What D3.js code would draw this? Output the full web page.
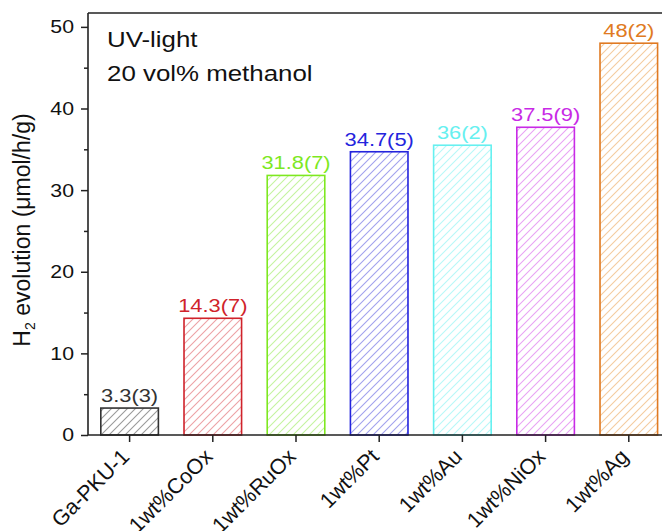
<!DOCTYPE html>
<html><head><meta charset="utf-8">
<script src="https://cdn.jsdelivr.net/npm/d3@7"></script>
<style>
body{margin:0;background:#fff;}
svg{display:block;font-family:"Liberation Sans",Arial,sans-serif;}
</style></head>
<body>
<svg id="chart" width="662" height="531"></svg>
<script>
const categories = ["Ga-PKU-1","1wt%CoOx","1wt%RuOx","1wt%Pt","1wt%Au","1wt%NiOx","1wt%Ag"];
const values = [3.3, 14.3, 31.8, 34.7, 35.5, 37.7, 48.0];
const valueLabels = ["3.3(3)","14.3(7)","31.8(7)","34.7(5)","36(2)","37.5(9)","48(2)"];
const colors = ["#333333","#d0232b","#7ee81f","#2424dd","#66f0f0","#c82ae6","#e07a22"];
const hatchColors = ["#9a9a9a","#eca2a6","#c4f3a0","#a2a2ee","#b8f8f8","#e8a4f4","#f4cca0"];
const yTicks = [0,10,20,30,40,50];
const yMinorTicks = [5,15,25,35,45];
const legendLines = ["UV-light","20 vol% methanol"];

const S = 1.15; // horizontal text stretch
const svg = d3.select("#chart");
const mLeft = 88, mTop = 13, mBottom = 435, mRight = 670.4;

const x = d3.scaleBand().domain(categories).range([mLeft, mRight]).paddingInner(0.29).paddingOuter(0.145);
const y = d3.scaleLinear().domain([0, 51.7]).range([mBottom, mTop]);

const defs = svg.append("defs");
categories.forEach((c,i)=>{
  const p = defs.append("pattern").attr("id","hatch-"+i).attr("patternUnits","userSpaceOnUse")
    .attr("width",8).attr("height",8);
  p.append("path").attr("d","M-2,2 L2,-2 M0,8 L8,0 M6,10 L10,6")
    .style("stroke",hatchColors[i]).style("stroke-width","1.1px").style("fill","none");
});

// bars
svg.append("g").selectAll("rect").data(values).join("rect")
  .attr("x",(d,i)=>x(categories[i])+0.75)
  .attr("y",d=>y(d))
  .attr("width",x.bandwidth()-1.5)
  .attr("height",d=>y(0)-y(d))
  .style("fill",(d,i)=>`url(#hatch-${i})`)
  .style("stroke",(d,i)=>colors[i]).style("stroke-width","1.6px");

// value labels
svg.append("g").selectAll("text").data(values).join("text")
  .attr("transform",(d,i)=>`translate(${x(categories[i])+x.bandwidth()/2},${y(d)-6}) scale(${S},1)`)
  .attr("text-anchor","middle").attr("font-size",19)
  .attr("fill",(d,i)=>colors[i])
  .text((d,i)=>valueLabels[i]);

// frame top line
svg.append("line").attr("x1",mLeft).attr("x2",662).attr("y1",mTop).attr("y2",mTop)
  .attr("stroke","#222").attr("stroke-width",1.6);

// y axis
const yAxis = svg.append("g").attr("transform",`translate(${mLeft},0)`)
  .call(d3.axisLeft(y).tickValues(yTicks).tickSize(7).tickPadding(5).tickFormat(d3.format("d")));
yAxis.select(".domain").attr("d",`M0,${mBottom}V${mTop}`).attr("stroke","#222").attr("stroke-width",1.6);
yAxis.selectAll(".tick line").attr("stroke","#222").attr("stroke-width",1.5);
yAxis.selectAll(".tick text").attr("font-size",18.5).attr("fill","#111")
  .attr("font-family","Liberation Sans, Arial, sans-serif")
  .attr("x",-14/S).attr("transform",`scale(${S},1)`);
svg.append("g").attr("transform",`translate(${mLeft},0)`)
  .call(d3.axisLeft(y).tickValues(yMinorTicks).tickSize(4).tickFormat(""))
  .call(g=>g.select(".domain").remove())
  .selectAll("line").attr("stroke","#222").attr("stroke-width",1.5);

// x axis
const xAxis = svg.append("g").attr("transform",`translate(0,${mBottom})`)
  .call(d3.axisBottom(x).tickSize(7).tickFormat(""));
xAxis.select(".domain").attr("d",`M${mLeft},0H662`).attr("stroke","#222").attr("stroke-width",1.6);
xAxis.selectAll(".tick line").attr("stroke","#222").attr("stroke-width",1.5);

svg.append("g").selectAll("text").data(categories).join("text")
  .attr("transform",d=>`translate(${x(d)+x.bandwidth()/2+1},${mBottom+23}) rotate(-45)`)
  .attr("text-anchor","end").attr("font-size",21.5).attr("fill","#111")
  .text(d=>d);

// y label
const yl = svg.append("text").attr("transform",`translate(30,230) rotate(-90)`)
  .attr("text-anchor","middle").attr("font-size",23).attr("fill","#111");
yl.append("tspan").text("H");
yl.append("tspan").attr("font-size",14).attr("dy",5).text("2");
yl.append("tspan").attr("dy",-5).text(" evolution (\u03bcmol/h/g)");

// legend text
svg.append("g").selectAll("text").data(legendLines).join("text")
  .attr("transform",(d,i)=>`translate(107,${47+i*34}) scale(${S},1)`)
  .attr("font-size",22.5).attr("fill","#111").text(d=>d);
</script>
</body></html>
